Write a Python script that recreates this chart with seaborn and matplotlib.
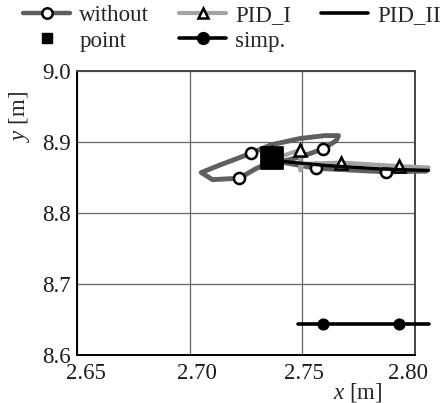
import numpy as np
import pandas as pd
import matplotlib
matplotlib.use("Agg")
import matplotlib.pyplot as plt
import matplotlib.transforms as mtransforms
from matplotlib.lines import Line2D
import seaborn as sns

# ---- data ----
without_x = [2.736, 2.729, 2.722, 2.710, 2.705, 2.712, 2.727, 2.736, 2.749, 2.760, 2.766, 2.765,
             2.759, 2.749, 2.740, 2.756, 2.787, 2.805]
without_y = [8.872, 8.862, 8.849, 8.847, 8.857, 8.866, 8.884, 8.896, 8.905, 8.909, 8.909, 8.902,
             8.890, 8.879, 8.872, 8.863, 8.858, 8.859]
without_marks = [2, 6, 12, 15, 16]

pid1_x = [2.737, 2.749, 2.749, 2.750, 2.767, 2.793, 2.806]
pid1_y = [8.876, 8.889, 8.860, 8.869, 8.871, 8.866, 8.864]
pid1_marks = [1, 4, 5]

pid2_x = [2.7365, 2.7365, 2.740, 2.760, 2.785, 2.806]
pid2_y = [8.893, 8.865, 8.873, 8.867, 8.862, 8.860]

point_x = [2.7363]
point_y = [8.877]

simp_x = [2.748, 2.759, 2.793, 2.806]
simp_y = [8.643, 8.643, 8.643, 8.643]
simp_marks = [1, 2]

xticks = [2.65, 2.70, 2.75, 2.80]
yticks = [8.6, 8.7, 8.8, 8.9, 9.0]

# ---- style ----
sns.set_theme(style="white")
plt.rcParams["font.family"] = ["Liberation Serif", "DejaVu Serif"]
plt.rcParams["mathtext.fontset"] = "custom"
plt.rcParams["mathtext.it"] = "Liberation Serif:italic"
plt.rcParams["mathtext.rm"] = "Liberation Serif"

FS = 16.5

fig = plt.figure(figsize=(4.44, 4.03), dpi=100)
ax = fig.add_axes([0.1745, 0.1191, 0.7602, 0.7047])

c_without = "#5f5f5f"
c_pid1 = "#a3a3a3"

sns.lineplot(x=without_x, y=without_y, sort=False, estimator=None, ax=ax,
             color=c_without, linewidth=3.5, marker="o", markevery=without_marks,
             markersize=8, markerfacecolor="white", markeredgecolor="black",
             markeredgewidth=1.8, clip_on=False, zorder=3)
sns.lineplot(x=pid1_x, y=pid1_y, sort=False, estimator=None, ax=ax,
             color=c_pid1, linewidth=3.0, marker="^", markevery=pid1_marks,
             markersize=8, markerfacecolor="white", markeredgecolor="black",
             markeredgewidth=1.8, clip_on=False, zorder=4)
sns.lineplot(x=pid2_x, y=pid2_y, sort=False, estimator=None, ax=ax,
             color="black", linewidth=2.4, clip_on=False, zorder=5)
sns.scatterplot(x=point_x, y=point_y, ax=ax, marker="s", s=250, color="black",
                edgecolor="black", zorder=6, clip_on=False)
sns.lineplot(x=simp_x, y=simp_y, sort=False, estimator=None, ax=ax,
             color="black", linewidth=2.6, marker="o", markevery=simp_marks,
             markersize=8, markerfacecolor="black", markeredgecolor="black",
             clip_on=False, zorder=5)

ax.set_xlim(2.65, 2.80)
ax.set_ylim(8.6, 9.0)
ax.set_xticks(xticks)
ax.set_yticks(yticks)
ax.set_xticklabels([f"{v:.2f}" for v in xticks])
ax.set_yticklabels([f"{v:.1f}" for v in yticks])
ax.tick_params(length=0, labelsize=FS, colors="#1a1a1a")
ax.tick_params(axis="y", pad=5)
ax.tick_params(axis="x", pad=6)
# small horizontal shifts of the x tick labels as in the reference
shifts = [8, 7, 1, -7]
for lab, dx in zip(ax.get_xticklabels(), shifts):
    lab.set_transform(lab.get_transform() +
                      mtransforms.ScaledTranslation(dx / 100, 0, fig.dpi_scale_trans))
ax.grid(True, color="#666666", linewidth=0.9)
for s in ax.spines.values():
    s.set_color("black")
    s.set_linewidth(1.4)
ax.spines["top"].set_color("#444444")
ax.spines["right"].set_color("#444444")

ax.set_xlabel("$x$ [m]", fontsize=FS)
ax.set_ylabel("$y$ [m]", fontsize=FS)
ax.xaxis.set_label_coords(0.83, -0.093)
ax.yaxis.set_label_coords(-0.135, 0.84)

handles = [
    Line2D([], [], color=c_without, lw=3.2, marker="o", markersize=7.5,
           markerfacecolor="white", markeredgecolor="black", markeredgewidth=1.8),
    Line2D([], [], color="black", lw=0, marker="s", markersize=7),
    Line2D([], [], color=c_pid1, lw=3.0, marker="^", markersize=7.5,
           markerfacecolor="white", markeredgecolor="black", markeredgewidth=1.8),
    Line2D([], [], color="black", lw=2.6, marker="o", markersize=8.5),
    Line2D([], [], color="black", lw=2.6),
]
labels = ["without", "point", "PID_I", "simp.", "PID_II"]
fig.legend(handles, labels, ncol=3, loc="upper left", bbox_to_anchor=(0.052, 0.988),
           frameon=False, fontsize=FS, handlelength=2.05, handletextpad=0.4,
           columnspacing=1.3, labelspacing=0.2, borderpad=0.0, borderaxespad=0.0)

fig.savefig("out.png", dpi=100)
